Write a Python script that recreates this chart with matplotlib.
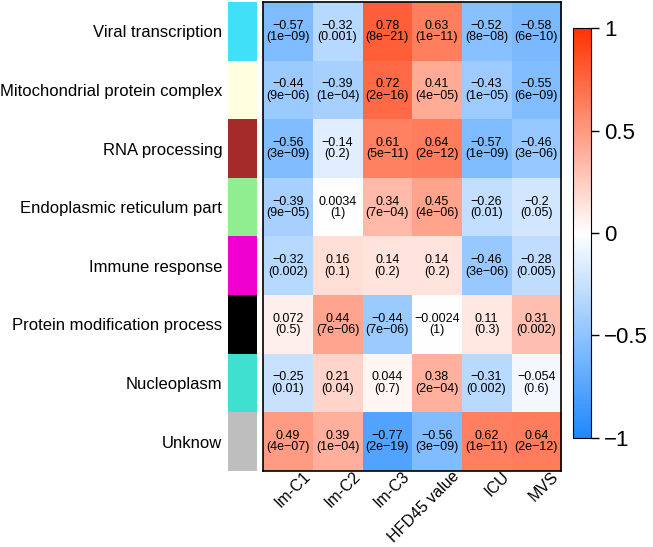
import numpy as np
import matplotlib.pyplot as plt
import matplotlib.transforms as mtransforms
from matplotlib.colors import LinearSegmentedColormap, ListedColormap

plt.rcParams['font.family'] = ['Liberation Sans', 'DejaVu Sans']

modules = ["Viral transcription", "Mitochondrial protein complex", "RNA processing",
           "Endoplasmic reticulum part", "Immune response", "Protein modification process",
           "Nucleoplasm", "Unknow"]
module_colors = ["#40E0F8", "#FFFFE0", "#A52A2A", "#90EE90", "#F000D0", "#000000",
                 "#40E0D0", "#BEBEBE"]
traits = ["Im-C1", "Im-C2", "Im-C3", "HFD45 value", "ICU", "MVS"]

cor = np.array([
    [-0.57, -0.32, 0.78, 0.63, -0.52, -0.58],
    [-0.44, -0.39, 0.72, 0.41, -0.43, -0.55],
    [-0.56, -0.14, 0.61, 0.64, -0.57, -0.46],
    [-0.39, 0.0034, 0.34, 0.45, -0.26, -0.2],
    [-0.32, 0.16, 0.14, 0.14, -0.46, -0.28],
    [0.072, 0.44, -0.44, -0.0024, 0.11, 0.31],
    [-0.25, 0.21, 0.044, 0.38, -0.31, -0.054],
    [0.49, 0.39, -0.77, -0.56, 0.62, 0.64],
])
pvals = [
    ["1e-09", "0.001", "8e-21", "1e-11", "8e-08", "6e-10"],
    ["9e-06", "1e-04", "2e-16", "4e-05", "1e-05", "6e-09"],
    ["3e-09", "0.2", "5e-11", "2e-12", "1e-09", "3e-06"],
    ["9e-05", "1", "7e-04", "4e-06", "0.01", "0.05"],
    ["0.002", "0.1", "0.2", "0.2", "3e-06", "0.005"],
    ["0.5", "7e-06", "7e-06", "1", "0.3", "0.002"],
    ["0.01", "0.04", "0.7", "2e-04", "0.002", "0.6"],
    ["4e-07", "1e-04", "2e-19", "3e-09", "1e-11", "2e-12"],
]

cmap = LinearSegmentedColormap.from_list("bwr2", ["#1E88FF", "#FFFFFF", "#FF3300"])

fig = plt.figure(figsize=(6.53, 5.47), dpi=100)
ax = fig.add_axes([0.4028, 0.139, 0.4564, 0.857])
im = ax.imshow(cor, cmap=cmap, vmin=-1, vmax=1, aspect='auto')

for i in range(cor.shape[0]):
    for j in range(cor.shape[1]):
        s = ("%g" % cor[i, j]).replace("-", "\u2212")
        ax.text(j, i, s + "\n(" + pvals[i][j].replace("-", "\u2212") + ")",
                ha='center', va='center', fontsize=9, linespacing=0.95)

ax.set_yticks([])
ax.set_xticks(range(len(traits)))
ax.set_xticklabels(traits, rotation=45, ha='right', va='top', rotation_mode='anchor',
                   fontsize=11.5)
ax.tick_params(axis='x', length=0, pad=0)
shift = mtransforms.ScaledTranslation(0.15, 0.02, fig.dpi_scale_trans)
for lab in ax.get_xticklabels():
    lab.set_transform(lab.get_transform() + shift)
for sp in ax.spines.values():
    sp.set_linewidth(1.2)

# module colour strip
side = fig.add_axes([0.349, 0.139, 0.0429, 0.857])
side.imshow(np.arange(len(modules)).reshape(-1, 1), cmap=ListedColormap(module_colors),
            aspect='auto')
side.set_xticks([])
side.set_yticks(range(len(modules)))
side.set_yticklabels(modules, fontsize=12)
side.tick_params(axis='y', length=0, pad=4)
for sp in side.spines.values():
    sp.set_visible(False)

cax = fig.add_axes([0.8775, 0.1993, 0.0276, 0.7495])
cb = fig.colorbar(im, cax=cax, ticks=[-1, -0.5, 0, 0.5, 1])
cb.ax.set_yticklabels(["\u22121", "\u22120.5", "0", "0.5", "1"])
cb.ax.tick_params(labelsize=16, length=6, width=1)
cb.outline.set_linewidth(0.8)

fig.savefig("out.png", dpi=100)
